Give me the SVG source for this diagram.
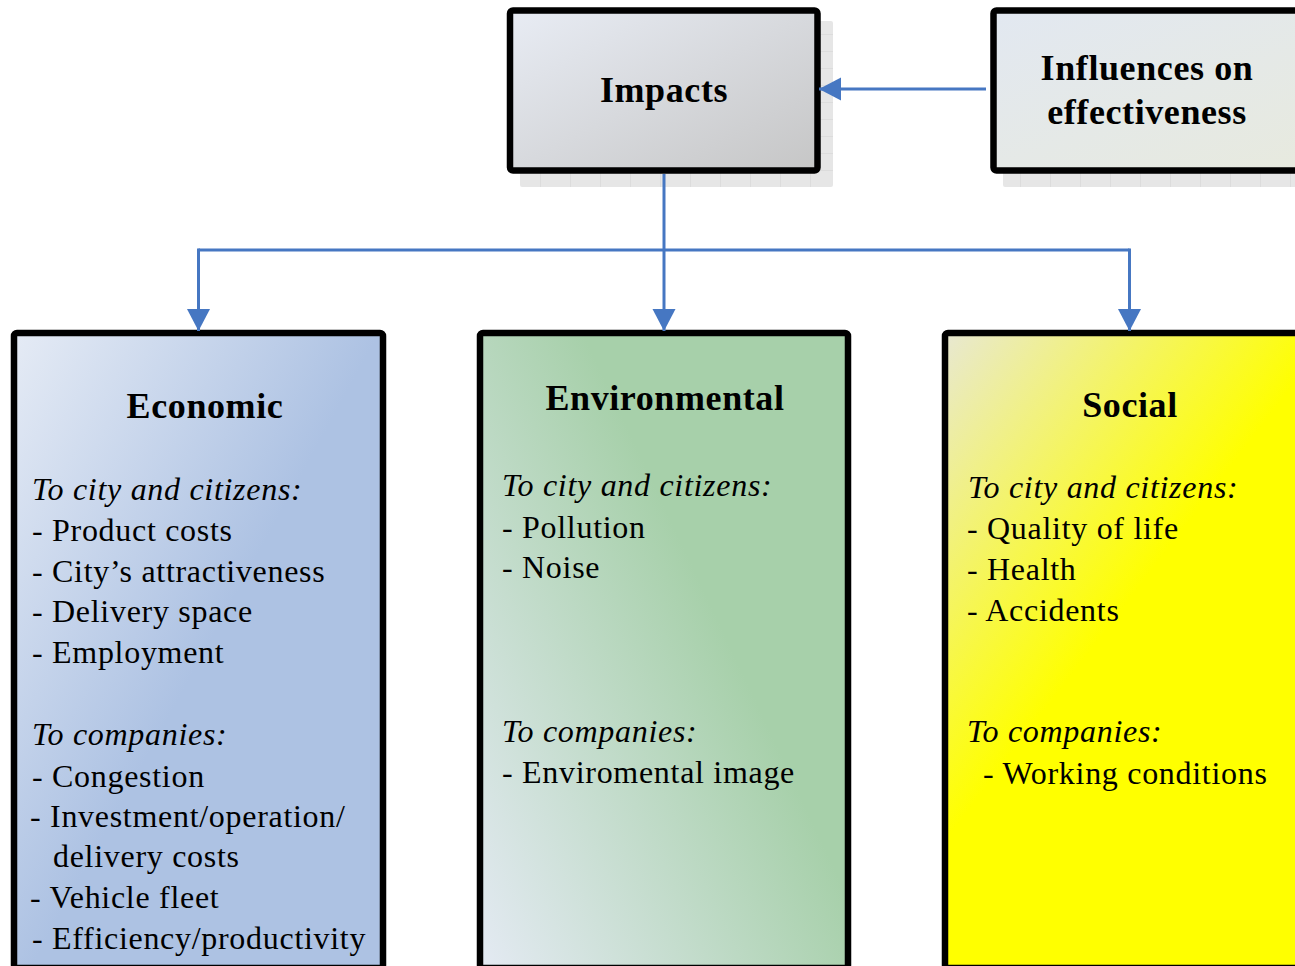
<svg xmlns="http://www.w3.org/2000/svg" width="1295" height="966" viewBox="0 0 1295 966">
  <defs>
    <style>
      .box { stroke: #000; stroke-width: 6.5; }
      .shadow { fill: url(#shadowTex); }
      .title { font-family: "Liberation Serif", "Times New Roman", serif; font-weight: bold; font-size: 36px; letter-spacing: 0.6px; fill: #000; text-anchor: middle; }
      .body { font-family: "Liberation Serif", "Times New Roman", serif; font-size: 32px; letter-spacing: 0.7px; fill: #000; }
      .head { font-style: italic; }
      .conn { fill: none; stroke: #4677c2; stroke-width: 3; stroke-linejoin: miter; stroke-linecap: butt; }
    </style>
    <pattern id="shadowTex" width="30" height="17" patternUnits="userSpaceOnUse">
      <rect width="30" height="17" fill="#e6e6e6"/>
      <path d="M0 0.5H30M0.5 0V17" stroke="#dcdcdc" stroke-width="1"/>
    </pattern>
    <linearGradient id="gImpacts" x1="0" y1="0" x2="1" y2="1">
      <stop offset="0" stop-color="#e8ecf4"/>
      <stop offset="1" stop-color="#c6c6c6"/>
    </linearGradient>
    <linearGradient id="gInfl" x1="0" y1="0" x2="1" y2="1">
      <stop offset="0" stop-color="#e2e8f1"/>
      <stop offset="1" stop-color="#e8eadc"/>
    </linearGradient>
    <linearGradient id="gEcon" gradientUnits="userSpaceOnUse" x1="14" y1="333" x2="295" y2="487">
      <stop offset="0" stop-color="#e5ebf5"/>
      <stop offset="1" stop-color="#adc2e3"/>
    </linearGradient>
    <linearGradient id="gEnv" gradientUnits="userSpaceOnUse" x1="480" y1="966" x2="808" y2="812">
      <stop offset="0" stop-color="#e4eaf3"/>
      <stop offset="1" stop-color="#a7d0aa"/>
    </linearGradient>
    <linearGradient id="gSoc" gradientUnits="userSpaceOnUse" x1="945" y1="333" x2="1190" y2="520">
      <stop offset="0" stop-color="#e8e8d2"/>
      <stop offset="1" stop-color="#ffff00"/>
    </linearGradient>
    <marker id="arrow" markerUnits="userSpaceOnUse" markerWidth="23" markerHeight="24" refX="22" refY="11.5" orient="auto">
      <path d="M0 0L22 11.5L0 23Z" fill="#4677c2"/>
    </marker>
  </defs>

  <rect width="1295" height="966" fill="#fff"/>

  <!-- top level -->
  <g id="impacts">
    <rect class="shadow" x="520" y="21" width="313" height="166" rx="2"/>
    <rect class="box" x="510" y="10.5" width="307.5" height="160" rx="3" fill="url(#gImpacts)"/>
    <text class="title" x="664" y="102">Impacts</text>
  </g>

  <g id="influences">
    <rect class="shadow" x="1003" y="21" width="320" height="166" rx="2"/>
    <rect class="box" x="993.5" y="10.5" width="400" height="160" rx="3" fill="url(#gInfl)"/>
    <text class="title" x="1147" y="80">Influences on</text>
    <text class="title" x="1147" y="124">effectiveness</text>
  </g>

  <!-- impact categories -->
  <g id="economic">
    <rect class="box" x="14" y="333" width="369" height="635" rx="3" fill="url(#gEcon)"/>
    <text class="title" x="205" y="418">Economic</text>
    <text class="body head" x="32" y="500">To city and citizens:</text>
    <text class="body" x="32" y="541">- Product costs</text>
    <text class="body" x="32" y="582">- City’s attractiveness</text>
    <text class="body" x="32" y="622">- Delivery space</text>
    <text class="body" x="32" y="663">- Employment</text>
    <text class="body head" x="32" y="745">To companies:</text>
    <text class="body" x="32" y="787">- Congestion</text>
    <text class="body" x="30" y="827">- Investment/operation/</text>
    <text class="body" x="53" y="867">delivery costs</text>
    <text class="body" x="30" y="908">- Vehicle fleet</text>
    <text class="body" x="32" y="949">- Efficiency/productivity</text>
  </g>

  <g id="environmental">
    <rect class="box" x="480" y="333" width="368" height="635" rx="3" fill="url(#gEnv)"/>
    <text class="title" x="665" y="410">Environmental</text>
    <text class="body head" x="502" y="496">To city and citizens:</text>
    <text class="body" x="502" y="538">- Pollution</text>
    <text class="body" x="502" y="578">- Noise</text>
    <text class="body head" x="502" y="742">To companies:</text>
    <text class="body" x="502" y="783">- Enviromental image</text>
  </g>

  <g id="social">
    <rect class="box" x="945" y="333" width="400" height="635" rx="3" fill="url(#gSoc)"/>
    <text class="title" x="1130" y="417">Social</text>
    <text class="body head" x="968" y="498">To city and citizens:</text>
    <text class="body" x="967" y="539">- Quality of life</text>
    <text class="body" x="967" y="580">- Health</text>
    <text class="body" x="967" y="621">- Accidents</text>
    <text class="body head" x="967" y="742">To companies:</text>
    <text class="body" x="983" y="784">- Working conditions</text>
  </g>

  <!-- connectors -->
  <g id="connectors">
    <path class="conn" d="M986 89H819" marker-end="url(#arrow)"/>
    <path class="conn" d="M664 174V250"/>
    <path class="conn" d="M198.5 250H1129.5"/>
    <path class="conn" d="M198.5 248.5V331" marker-end="url(#arrow)"/>
    <path class="conn" d="M664 250V331" marker-end="url(#arrow)"/>
    <path class="conn" d="M1129.5 248.5V331" marker-end="url(#arrow)"/>
  </g>
</svg>
